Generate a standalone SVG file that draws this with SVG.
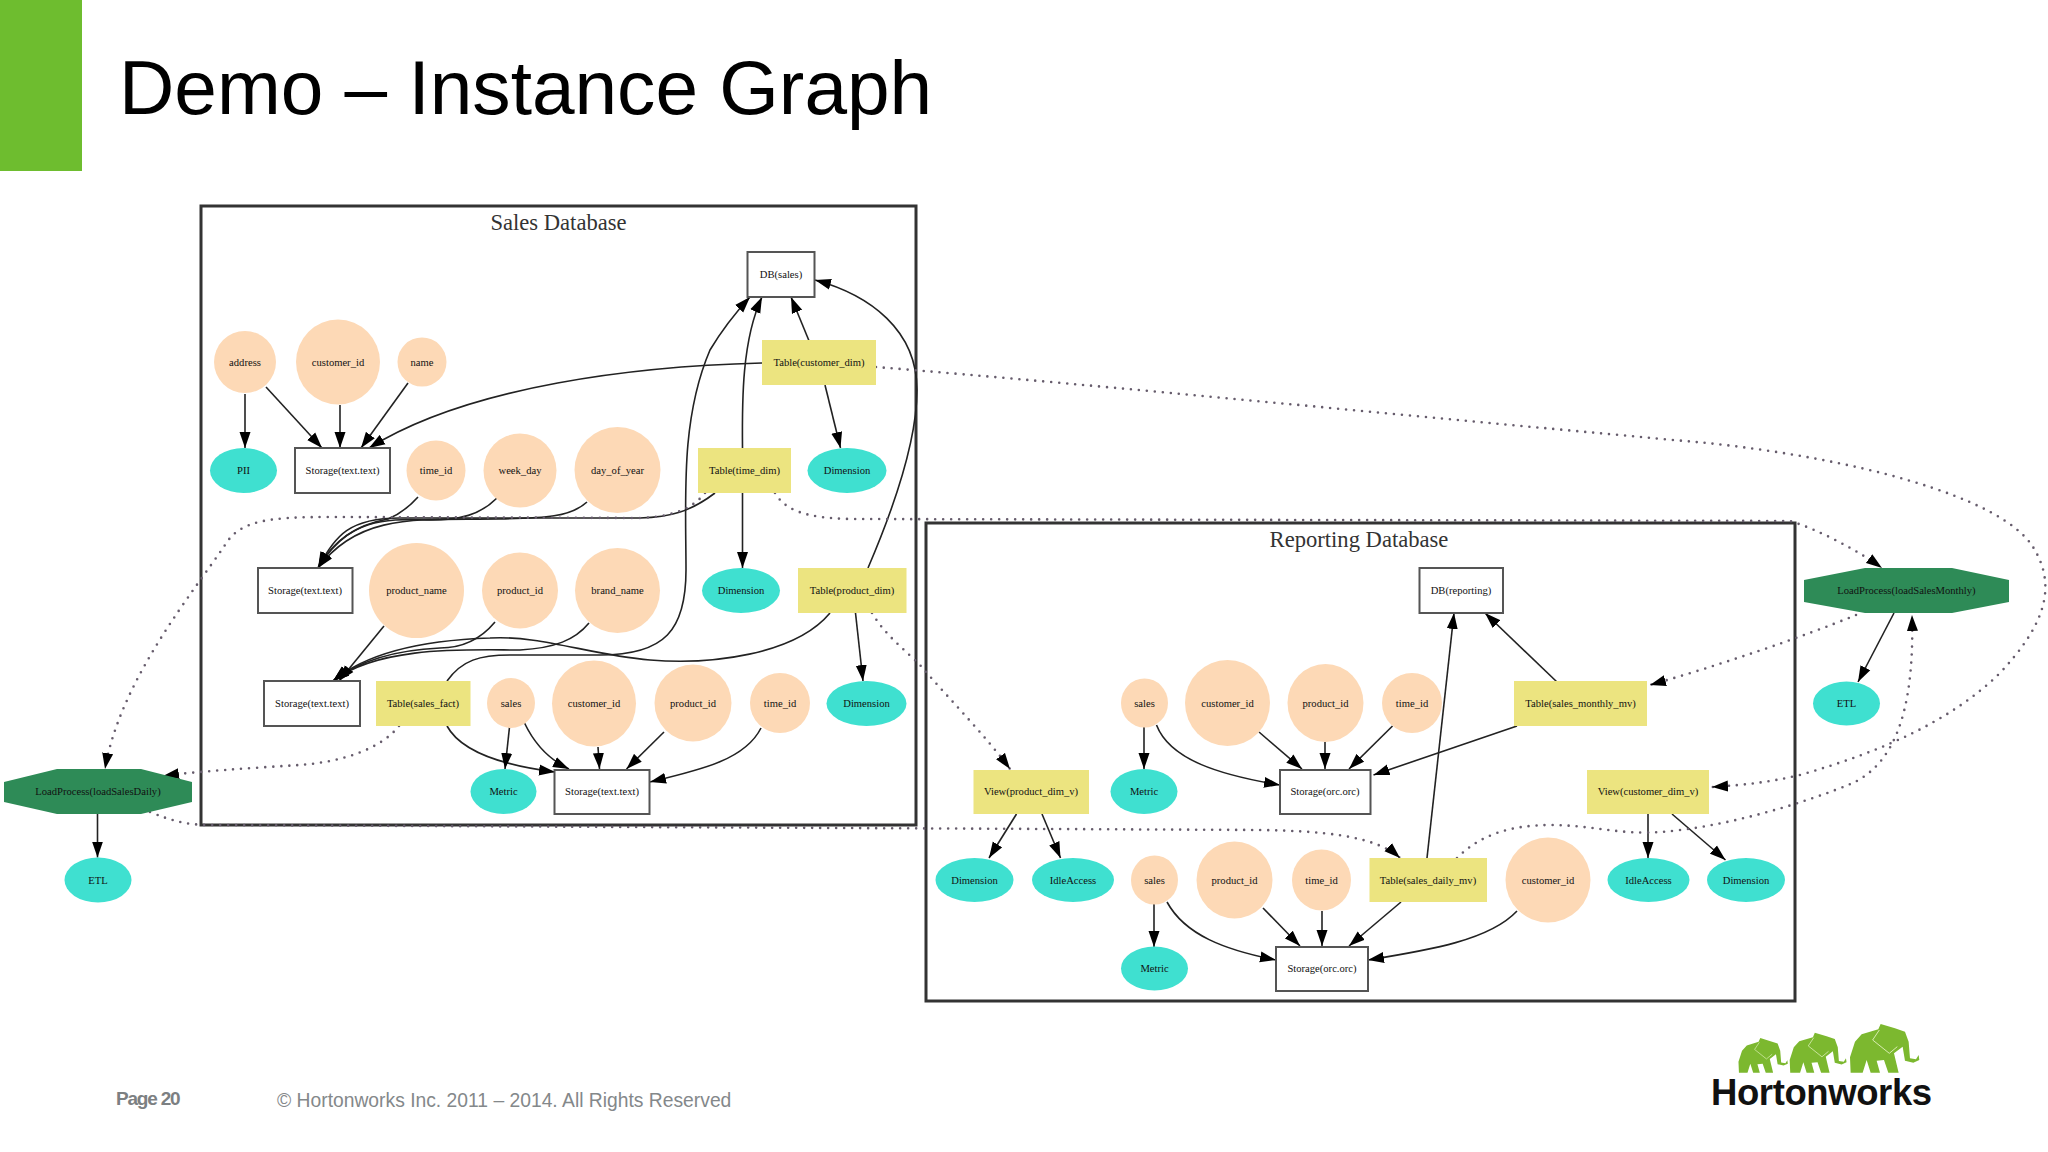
<svg xmlns="http://www.w3.org/2000/svg" xmlns:xlink="http://www.w3.org/1999/xlink" width="2048" height="1152" viewBox="0 0 2048 1152">
<style>
text{font-family:"Liberation Serif","Times New Roman",serif;fill:#111}
.l{font-size:10.6px;text-anchor:middle}
.h{font-size:22.6px;text-anchor:middle;fill:#333}
.c{fill:#fff;stroke:#333;stroke-width:3}
.p{fill:#fdd9b6}
.m{fill:#3fe0d0}
.y{fill:#ece480}
.s{fill:#fff;stroke:#555;stroke-width:2}
.g{fill:#2e8b57}
.e{fill:none;stroke:#222;stroke-width:1.6;marker-end:url(#a)}
.f{fill:none;stroke:#665c6c;stroke-width:2.6;stroke-linecap:round;stroke-dasharray:0 8;marker-end:url(#a)}
.lg{fill:#7cb82f}
.ln{fill:none;stroke:#d8ecb0;stroke-width:3}
</style>
<defs>
<marker id="a" markerUnits="userSpaceOnUse" markerWidth="17" markerHeight="12" refX="16" refY="6" orient="auto"><path d="M0,0.5 L16,6 L0,11.500 Z" fill="#000"/></marker>
<g id="el">
<path class="lg" d="M510,172 L525,125 L545,103 L595,88 L602,72 L645,85 L675,95 L686,125 L690,175 L708,178 L716,165 L718,180 L700,188 L675,182 L668,140 L642,160 L656,218 L625,218 L612,180 L590,182 L600,218 L572,218 L560,180 L548,218 L512,218 Z"/>
<path class="ln" d="M578,120 L628,160 L652,140 M598,90 L578,120"/>
</g>
</defs>
<rect width="2048" height="1152" fill="#fff"/>
<rect id="accent" width="82" height="171" fill="#6ebd2f"/>
<text id="title" x="119" y="114" style="font-family:'Liberation Sans',Arial,sans-serif;font-size:76.600px;fill:#000">Demo – Instance Graph</text>

<g id="clusters">
<rect id="sales-db" class="c" x="201" y="206" width="715" height="619"/>
<text class="h" x="558.500" y="230">Sales Database</text>
<rect id="reporting-db" class="c" x="926" y="523" width="869" height="478"/>
<text class="h" x="1359" y="547">Reporting Database</text>
</g>

<g id="connectors">
<path class="e" d="M245,394V448"/>
<path class="e" d="M266,387L322,448"/>
<path class="e" d="M340,405V448"/>
<path class="e" d="M408,383L361,448"/>
<path class="e" d="M762,363C640,366 470,385 369,448"/>
<path class="e" d="M809.500,342L791,297"/>
<path class="e" d="M825,385L840.500,448"/>
<path class="e" d="M742.500,448C742,400 742,340 762,297"/>
<path class="e" d="M742.500,493V568"/>
<path class="e" d="M715,493C690,512 670,517 640,518L400,518C350,518 335,535 318,568"/>
<path class="e" d="M418,497C410,506 400,514 388,519C355,525 335,540 318,568"/>
<path class="e" d="M497,498C480,515 460,520 430,520C400,520 350,512 318,568"/>
<path class="e" d="M587,502C570,518 540,518 500,519C420,520 360,512 318,568"/>
<path class="e" d="M447,681C462,660 480,655 510,655L600,655C665,655 686,630 686,570C686,500 680,420 710,350C725,325 738,310 750,297"/>
<path class="e" d="M868,568C895,505 917,440 917,390C917,330 870,295 815,280"/>
<path class="e" d="M855.500,613L863,681"/>
<path class="e" d="M830,613C795,655 710,665 650,660C590,655 540,635 490,638C430,640 370,650 333,681"/>
<path class="e" d="M589,623C575,640 555,648 520,650C470,650 380,645 333,681"/>
<path class="e" d="M495,622C480,640 460,648 440,648C395,650 360,660 333,681"/>
<path class="e" d="M384,626L339,681"/>
<path class="e" d="M447,726C460,750 500,765 555,772"/>
<path class="e" d="M509.500,727L505,769"/>
<path class="e" d="M524.500,723C535,745 550,760 569,769"/>
<path class="e" d="M598,747L599.500,769"/>
<path class="e" d="M664,732L626.500,769"/>
<path class="e" d="M761,728C745,760 700,770 650,782"/>
<path class="e" d="M97.500,814V857.500"/>
<path class="e" d="M1557,682L1485,613"/>
<path class="e" d="M1427,858L1454,613"/>
<path class="e" d="M1517,726L1373.500,775"/>
<path class="e" d="M1144,727V769"/>
<path class="e" d="M1156.500,725C1170,760 1220,775 1280,785"/>
<path class="e" d="M1259,732L1302,769"/>
<path class="e" d="M1325,742V769"/>
<path class="e" d="M1392.500,726L1349,769"/>
<path class="e" d="M1016.500,814L989,858"/>
<path class="e" d="M1042,814L1060.500,858"/>
<path class="e" d="M1648,814V858"/>
<path class="e" d="M1672,814L1725.500,860"/>
<path class="e" d="M1154,904V947"/>
<path class="e" d="M1167,902C1185,935 1225,950 1276,960"/>
<path class="e" d="M1263,908L1300,946"/>
<path class="e" d="M1322,911V946"/>
<path class="e" d="M1401,902L1349,946"/>
<path class="e" d="M1517,911C1490,940 1430,950 1368,960"/>
<path class="e" d="M1894,613L1858,682"/>
<path class="f" d="M399,726C380,750 340,762 300,765C250,768 190,772 163,776"/>
<path class="f" d="M705,493C690,512 665,517 640,518L330,517C270,517 240,520 225,545C195,590 120,680 105,769"/>
<path class="f" d="M775,493C785,510 805,518 850,519L1790,521C1820,530 1860,552 1882,568"/>
<path class="f" d="M876,367C1100,385 1450,420 1707,443C1850,458 2000,495 2033,547C2060,590 2040,630 2000,673C1950,722 1880,752 1800,775C1770,782 1745,785 1712,787"/>
<path class="f" d="M872,613C885,635 905,650 920,665C950,700 985,735 1010,769"/>
<path class="f" d="M150,812C170,820 185,825 210,825L1260,830C1320,831 1375,835 1400,858"/>
<path class="f" d="M1856,615C1800,638 1720,665 1650,685"/>
<path class="f" d="M1457,858C1480,835 1510,825 1551,825C1590,825 1620,835 1660,832C1720,828 1800,805 1853,783C1890,765 1915,720 1912,615"/>
</g>

<g id="nodes">
<g id="s-address"><ellipse class="p" cx="245" cy="362" rx="31" ry="31"/><text class="l" x="245" y="365.500">address</text></g>
<g id="s-customer_id"><ellipse class="p" cx="338" cy="362" rx="42" ry="42.500"/><text class="l" x="338" y="365.500">customer_id</text></g>
<g id="s-name"><ellipse class="p" cx="422" cy="362" rx="24.500" ry="24.500"/><text class="l" x="422" y="365.500">name</text></g>
<g id="s-pii"><ellipse class="m" cx="243.500" cy="470.500" rx="33.500" ry="22.500"/><text class="l" x="243.500" y="474">PII</text></g>
<g id="s-storage1"><rect class="s" x="295" y="448" width="95" height="45"/><text class="l" x="342.500" y="474">Storage(text.text)</text></g>
<g id="s-time_id"><ellipse class="p" cx="436" cy="470.500" rx="29.500" ry="30"/><text class="l" x="436" y="474">time_id</text></g>
<g id="s-week_day"><ellipse class="p" cx="520" cy="470.500" rx="36.500" ry="37"/><text class="l" x="520" y="474">week_day</text></g>
<g id="s-day_of_year"><ellipse class="p" cx="617.500" cy="470" rx="43" ry="43"/><text class="l" x="617.500" y="474">day_of_year</text></g>
<g id="s-table-time"><rect class="y" x="698" y="448" width="93" height="45"/><text class="l" x="744.500" y="474">Table(time_dim)</text></g>
<g id="s-dim1"><ellipse class="m" cx="847" cy="470.500" rx="39.500" ry="22.500"/><text class="l" x="847" y="474">Dimension</text></g>
<g id="s-db"><rect class="s" x="747.500" y="252" width="67" height="45"/><text class="l" x="781" y="277.500">DB(sales)</text></g>
<g id="s-table-customer"><rect class="y" x="762" y="340" width="114" height="45"/><text class="l" x="819" y="365.500">Table(customer_dim)</text></g>
<g id="s-storage2"><rect class="s" x="258" y="568" width="94.500" height="45"/><text class="l" x="305" y="594">Storage(text.text)</text></g>
<g id="s-product_name"><ellipse class="p" cx="416.500" cy="590.500" rx="47.500" ry="47.500"/><text class="l" x="416.500" y="594">product_name</text></g>
<g id="s-product_id"><ellipse class="p" cx="520" cy="590.500" rx="38" ry="38"/><text class="l" x="520" y="594">product_id</text></g>
<g id="s-brand_name"><ellipse class="p" cx="617.500" cy="590.500" rx="42.500" ry="42.500"/><text class="l" x="617.500" y="594">brand_name</text></g>
<g id="s-dim2"><ellipse class="m" cx="741" cy="590.500" rx="39" ry="22.500"/><text class="l" x="741" y="594">Dimension</text></g>
<g id="s-table-product"><rect class="y" x="798" y="568" width="108.500" height="45"/><text class="l" x="852" y="594">Table(product_dim)</text></g>
<g id="s-storage3"><rect class="s" x="264" y="681" width="96" height="45"/><text class="l" x="312" y="707">Storage(text.text)</text></g>
<g id="s-table-fact"><rect class="y" x="376" y="681" width="94.500" height="45"/><text class="l" x="423" y="707">Table(sales_fact)</text></g>
<g id="s-sales"><ellipse class="p" cx="511" cy="703" rx="24" ry="25"/><text class="l" x="511" y="707">sales</text></g>
<g id="s-customer_id2"><ellipse class="p" cx="594" cy="703.500" rx="42" ry="43"/><text class="l" x="594" y="707">customer_id</text></g>
<g id="s-product_id2"><ellipse class="p" cx="693" cy="703" rx="38.500" ry="38.500"/><text class="l" x="693" y="707">product_id</text></g>
<g id="s-time_id2"><ellipse class="p" cx="780" cy="703" rx="30" ry="30"/><text class="l" x="780" y="707">time_id</text></g>
<g id="s-dim3"><ellipse class="m" cx="866.500" cy="703.500" rx="40" ry="22.500"/><text class="l" x="866.500" y="707">Dimension</text></g>
<g id="s-metric"><ellipse class="m" cx="503.500" cy="791.500" rx="33" ry="22.500"/><text class="l" x="503.500" y="795">Metric</text></g>
<g id="s-storage4"><rect class="s" x="554.500" y="770" width="95" height="44"/><text class="l" x="602" y="795">Storage(text.text)</text></g>

<g id="p-daily"><polygon class="g" points="4,782 57,769 141,769 192,782 192,802 141,814 57,814 4,802"/><text class="l" x="98" y="795">LoadProcess(loadSalesDaily)</text></g>
<g id="p-daily-etl"><ellipse class="m" cx="98" cy="880" rx="33.500" ry="22.500"/><text class="l" x="98" y="883.500">ETL</text></g>
<g id="p-monthly"><polygon class="g" points="1804,580 1865,568 1952,568 2009,580 2009,602 1952,613 1865,613 1804,602"/><text class="l" x="1906.500" y="594">LoadProcess(loadSalesMonthly)</text></g>
<g id="p-monthly-etl"><ellipse class="m" cx="1846.500" cy="703.500" rx="33.500" ry="22"/><text class="l" x="1846.500" y="707">ETL</text></g>

<g id="r-db"><rect class="s" x="1419.500" y="568" width="83.500" height="45"/><text class="l" x="1461" y="594">DB(reporting)</text></g>
<g id="r-table-monthly"><rect class="y" x="1514" y="681" width="133" height="45"/><text class="l" x="1580.500" y="707">Table(sales_monthly_mv)</text></g>
<g id="r-sales"><ellipse class="p" cx="1144.500" cy="703" rx="23.500" ry="24.500"/><text class="l" x="1144.500" y="707">sales</text></g>
<g id="r-customer_id"><ellipse class="p" cx="1227.500" cy="703" rx="42.500" ry="43"/><text class="l" x="1227.500" y="707">customer_id</text></g>
<g id="r-product_id"><ellipse class="p" cx="1325.500" cy="703" rx="38" ry="39"/><text class="l" x="1325.500" y="707">product_id</text></g>
<g id="r-time_id"><ellipse class="p" cx="1412" cy="703" rx="30" ry="30"/><text class="l" x="1412" y="707">time_id</text></g>
<g id="r-view-product"><rect class="y" x="973.500" y="770" width="115.500" height="44"/><text class="l" x="1031" y="795">View(product_dim_v)</text></g>
<g id="r-metric"><ellipse class="m" cx="1144" cy="791.500" rx="33.500" ry="22.500"/><text class="l" x="1144" y="795">Metric</text></g>
<g id="r-storage1"><rect class="s" x="1280" y="770" width="90.500" height="44"/><text class="l" x="1325" y="795">Storage(orc.orc)</text></g>
<g id="r-view-customer"><rect class="y" x="1587" y="770" width="122" height="44"/><text class="l" x="1648" y="795">View(customer_dim_v)</text></g>
<g id="r-dim1"><ellipse class="m" cx="974.500" cy="880" rx="39" ry="22"/><text class="l" x="974.500" y="883.500">Dimension</text></g>
<g id="r-idle1"><ellipse class="m" cx="1073" cy="880" rx="41" ry="22"/><text class="l" x="1073" y="883.500">IdleAccess</text></g>
<g id="r-sales2"><ellipse class="p" cx="1154.500" cy="880" rx="23.500" ry="24.500"/><text class="l" x="1154.500" y="883.500">sales</text></g>
<g id="r-product_id2"><ellipse class="p" cx="1234.500" cy="880" rx="38" ry="38.500"/><text class="l" x="1234.500" y="883.500">product_id</text></g>
<g id="r-time_id2"><ellipse class="p" cx="1321.500" cy="880" rx="29.500" ry="30.500"/><text class="l" x="1321.500" y="883.500">time_id</text></g>
<g id="r-table-daily"><rect class="y" x="1369.500" y="858" width="117.500" height="44"/><text class="l" x="1428" y="883.500">Table(sales_daily_mv)</text></g>
<g id="r-customer_id2"><ellipse class="p" cx="1548" cy="880" rx="42.500" ry="42.500"/><text class="l" x="1548" y="883.500">customer_id</text></g>
<g id="r-idle2"><ellipse class="m" cx="1648.500" cy="880" rx="41" ry="22"/><text class="l" x="1648.500" y="883.500">IdleAccess</text></g>
<g id="r-dim2"><ellipse class="m" cx="1746" cy="880" rx="39" ry="22"/><text class="l" x="1746" y="883.500">Dimension</text></g>
<g id="r-metric2"><ellipse class="m" cx="1154.500" cy="968.500" rx="33.500" ry="22"/><text class="l" x="1154.500" y="972">Metric</text></g>
<g id="r-storage2"><rect class="s" x="1276" y="947" width="92" height="44"/><text class="l" x="1322" y="972">Storage(orc.orc)</text></g>
</g>

<g id="footer">
<text x="116" y="1105" style="font-family:'Liberation Sans',Arial,sans-serif;font-size:19px;font-weight:bold;letter-spacing:-1.2px;fill:#7c8082">Page 20</text>
<text x="277" y="1106.500" style="font-family:'Liberation Sans',Arial,sans-serif;font-size:19.300px;fill:#84888a">© Hortonworks Inc. 2011 – 2014. All Rights Reserved</text>
</g>

<g id="logo">
<use xlink:href="#el" href="#el" transform="translate(1680,1000) scale(.3333)"/>
<use xlink:href="#el" href="#el" transform="translate(1650.300,1013.100) scale(.2733)"/>
<use xlink:href="#el" href="#el" transform="translate(1617.500,1021) scale(.2372)"/>
<text x="1711" y="1105" style="font-family:'Liberation Sans',Arial,sans-serif;font-size:36.500px;font-weight:bold;letter-spacing:-.4px;fill:#111">Hortonworks</text>
</g>
</svg>
